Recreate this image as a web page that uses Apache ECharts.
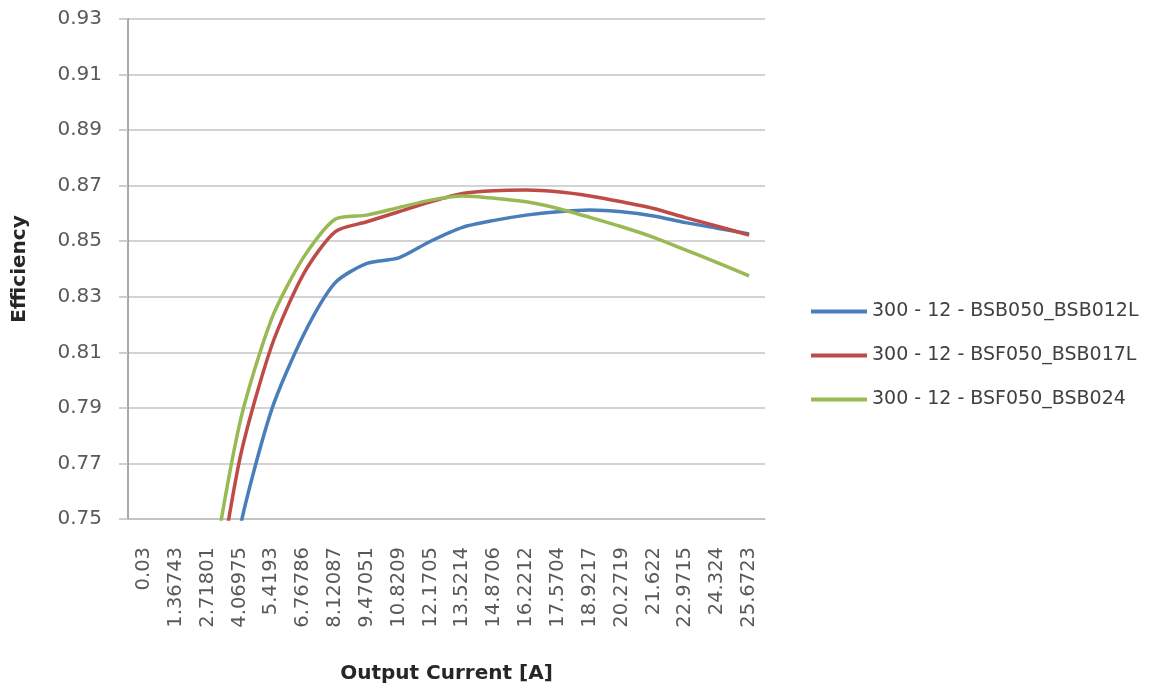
<!DOCTYPE html>
<html>
<head>
<meta charset="utf-8">
<script src="https://cdn.jsdelivr.net/npm/echarts@6/dist/echarts.min.js"></script>
<style>
  html, body { margin: 0; padding: 0; background: #fff; }
  #chart { width: 1152px; height: 691px; }
</style>
</head>
<body>
<div id="chart"></div>
<script>
// Output current categories [A]
const currents = ['0.03', '1.36743', '2.71801', '4.06975', '5.4193', '6.76786', '8.12087',
  '9.47051', '10.8209', '12.1705', '13.5214', '14.8706', '16.2212', '17.5704', '18.9217',
  '20.2719', '21.622', '22.9715', '24.324', '25.6723'];

// Measured efficiency per configuration
const effBSB012L = [0.42, 0.58, 0.68, 0.746, 0.789, 0.816, 0.835, 0.842, 0.844, 0.850,
  0.855, 0.8575, 0.8594, 0.8606, 0.8612, 0.8606, 0.8591, 0.8567, 0.8547, 0.8526];
const effBSB017L = [0.46, 0.62, 0.702, 0.771, 0.812, 0.838, 0.8534, 0.857, 0.8606, 0.8642,
  0.8672, 0.8682, 0.8684, 0.8678, 0.8663, 0.8642, 0.8618, 0.8585, 0.8554, 0.8522];
const effBSB024 = [0.48, 0.64, 0.72, 0.784, 0.8218, 0.844, 0.8579, 0.8594, 0.8621, 0.8648,
  0.8663, 0.8655, 0.8642, 0.8618, 0.8586, 0.8552, 0.8514, 0.8469, 0.8423, 0.8375];

const seriesNames = ['300 - 12 - BSB050_BSB012L', '300 - 12 - BSF050_BSB017L', '300 - 12 - BSF050_BSB024'];
const seriesColors = ['#4a7ebb', '#be4b48', '#98b954'];
const seriesData = [effBSB012L, effBSB017L, effBSB024];

const font = 'DejaVu Sans, Verdana, sans-serif';
const chart = echarts.init(document.getElementById('chart'));

chart.setOption({
  animation: false,
  backgroundColor: '#ffffff',
  grid: { left: 128, top: 19, right: 387, bottom: 172, containLabel: false },
  legend: {
    orient: 'vertical',
    left: 806,
    top: 297,
    itemGap: 25,
    itemWidth: 56,
    itemHeight: 4,
    icon: 'rect',
    textStyle: { fontFamily: font, fontSize: 19, color: '#404040' },
    data: seriesNames
  },
  xAxis: {
    type: 'category',
    data: currents,
    boundaryGap: true,
    name: 'Output Current [A]',
    nameLocation: 'middle',
    nameGap: 145,
    nameTextStyle: { fontFamily: font, fontSize: 20, fontWeight: 'bold', color: '#262626' },
    axisLine: { show: true, lineStyle: { color: '#bfbfbf', width: 1.5 } },
    axisTick: { show: false },
    axisLabel: { rotate: 90, margin: 28, fontFamily: font, fontSize: 19.5, color: '#595959', interval: 0 },
    splitLine: { show: false }
  },
  yAxis: {
    type: 'value',
    min: 0.75,
    max: 0.93,
    interval: 0.02,
    name: 'Efficiency',
    nameLocation: 'middle',
    nameGap: 98,
    nameRotate: 90,
    nameTextStyle: { fontFamily: font, fontSize: 20, fontWeight: 'bold', color: '#262626' },
    axisLine: { show: true, lineStyle: { color: '#8c8c8c', width: 1.5 } },
    axisTick: { show: true, inside: false, length: 9, lineStyle: { color: '#bfbfbf', width: 1.5 } },
    axisLabel: {
      margin: 26, fontFamily: font, fontSize: 20, color: '#595959',
      formatter: v => v.toFixed(2)
    },
    splitLine: { show: true, lineStyle: { color: '#c4c4c4', width: 1.5 } }
  },
  series: seriesNames.map((name, i) => ({
    name: name,
    type: 'line',
    data: seriesData[i],
    smooth: 0.25,
    showSymbol: false,
    clip: true,
    color: seriesColors[i],
    lineStyle: { width: 3.5, color: seriesColors[i] }
  }))
});
</script>
</body>
</html>
